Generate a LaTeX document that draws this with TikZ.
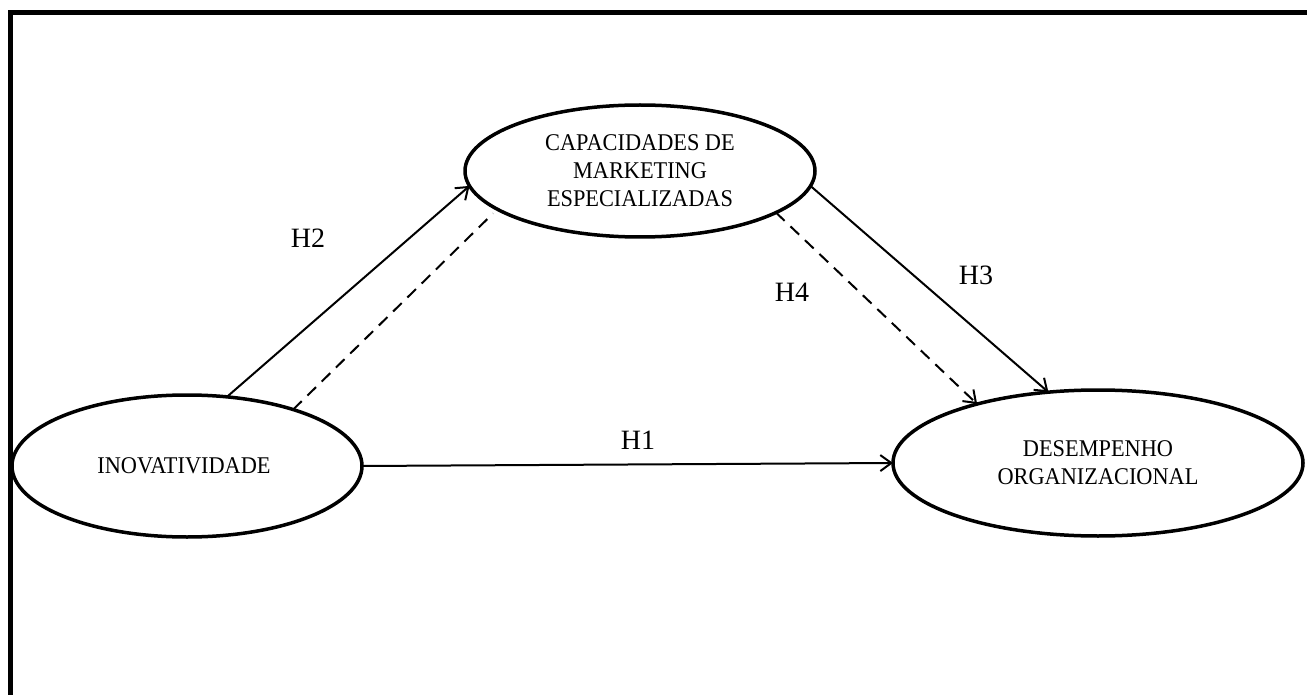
\documentclass[tikz,border=0pt]{standalone}
\usepackage{fontspec}
\setmainfont{Liberation Serif}
\usetikzlibrary{shapes.geometric,arrows.meta}
% slightly condensed lettering for the construct names
\newcommand\cond[1]{\scalebox{0.93}[1]{#1}}
\begin{document}
\begin{tikzpicture}[x=1pt,y=-1pt,
  construct/.style={ellipse,draw,line width=3.5pt,inner sep=0pt,outer sep=0pt,
    align=center,font=\fontsize{24}{28}\selectfont},
  link/.style={line width=2pt},
  head/.style={-{Straight Barb[length=11pt,width=16pt]}},
  dashedlink/.style={dash pattern=on 12pt off 8pt},
  hyp/.style={font=\fontsize{28}{32}\selectfont}]
\useasboundingbox (0,0) rectangle (1307,695);
% outer frame (left and top edges)
\draw[line width=4.5pt,line join=miter] (10.3,700) -- (10.3,12.5) -- (1310,12.5);

% constructs
\node[construct,minimum width=350pt,minimum height=142pt] (inov) at (187,466)
  {\cond{INOVATIVIDADE}\hspace*{6pt}};
\node[construct,minimum width=350pt,minimum height=132pt] (cap) at (640,171)
  {\cond{CAPACIDADES DE}\\\cond{MARKETING}\\\cond{ESPECIALIZADAS}};
\node[construct,minimum width=410pt,minimum height=146pt] (des) at (1098,463)
  {\cond{DESEMPENHO}\\\cond{ORGANIZACIONAL}};

% hypothesised paths
\draw[link,head] (inov.0) -- (des.180);
\draw[link,head] (inov.60) -- (cap.185);
\draw[link,dashedlink,shorten >=6pt] (inov.28) -- (cap.195.4);
\draw[link,head] (cap.355) -- (des.125.2);
\draw[link,dashedlink,head] (cap.343.8) -- (des.154.4);

% hypothesis labels
\node[hyp] (h1) at (638,440) {H1};
\node[hyp] (h2) at (308,238) {H2};
\node[hyp] (h3) at (976,275) {H3};
\node[hyp] (h4) at (792,292) {H4};
\end{tikzpicture}
\end{document}
